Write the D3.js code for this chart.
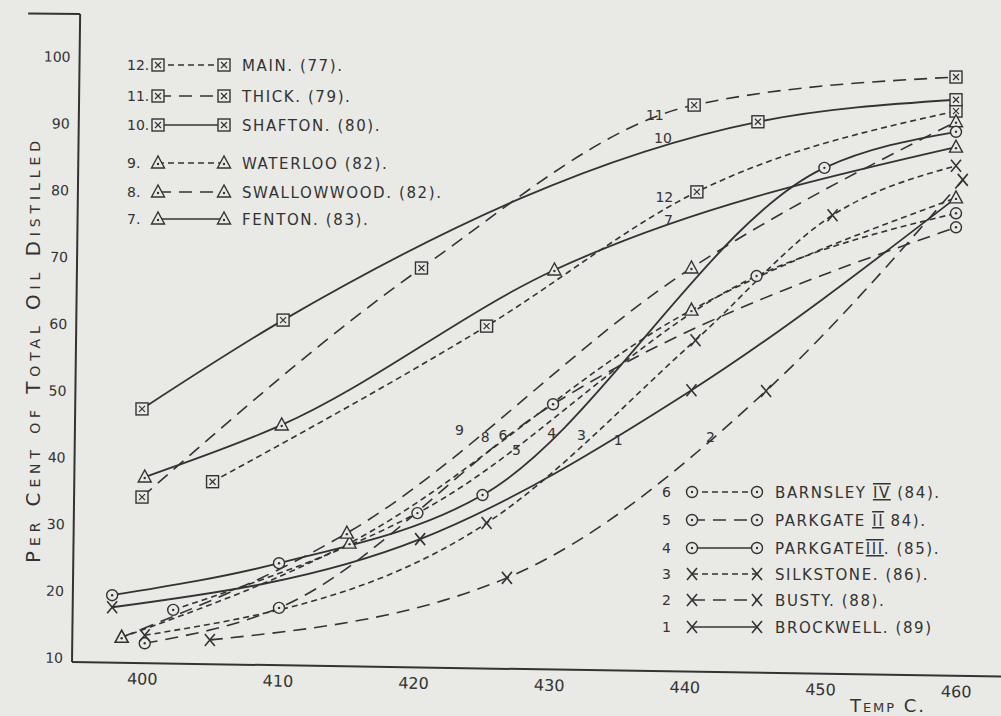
<!DOCTYPE html>
<html>
<head>
<meta charset="utf-8">
<script src="https://cdn.jsdelivr.net/npm/d3@7"></script>
<style>
body { margin: 0; background: #e9e9e6; }
svg { display: block; }
text { font-family: "DejaVu Sans", sans-serif; fill: #333; }
</style>
</head>
<body>
<div id="chart"></div>
<script>
var w = 1001, h = 716;
var bg = "#e9e9e6", ink = "#333";

// axes
var tempTicks = [400, 410, 420, 430, 440, 450, 460];
var pctTicks = [10, 20, 30, 40, 50, 60, 70, 80, 90, 100];

// squares
var mainT = [405.2, 425.4, 440.9, 460], mainV = [36.4, 59.7, 79.8, 91.9];
var thickT = [400, 420.6, 440.7, 460], thickV = [34.1, 68.4, 92.8, 97.0];
var shaftonT = [400, 410.4, 445.4, 460], shaftonV = [47.3, 60.6, 90.3, 93.6];
// triangles
var waterlooT = [398.5, 415.3, 440.5, 460], waterlooV = [13.1, 27.2, 62.1, 78.9];
var swallowT = [398.5, 415.1, 440.5, 460], swallowV = [13.1, 28.7, 68.4, 90.3];
var fentonT = [400.2, 410.3, 430.4, 460], fentonV = [37.1, 44.9, 68.1, 86.5];
// circles
var barnsleyT = [402.3, 420.3, 445.3, 460], barnsleyV = [17.2, 31.7, 67.2, 76.6];
var parkgate2T = [400.2, 410.1, 430.3, 460], parkgate2V = [12.2, 17.5, 48.0, 74.5];
var parkgate3T = [397.8, 410.1, 425.1, 450.3, 460], parkgate3V = [19.4, 24.2, 34.4, 83.4, 88.8];
// crosses
var silkstoneT = [400.2, 425.4, 440.8, 450.9, 460], silkstoneV = [13.4, 30.2, 57.6, 76.3, 83.7];
var bustyT = [405, 426.9, 446, 460.5], bustyV = [12.7, 22.0, 50.0, 81.6];
var brockwellT = [397.8, 420.5, 440.5, 460], brockwellV = [17.6, 27.8, 50.1, 78.9];

// curve numbers written on the sheet
var tagText = ["11", "10", "12", "7", "9", "8", "6", "5", "4", "3", "1", "2"];
var tagT = [437.8, 438.4, 438.5, 438.8, 423.4, 425.3, 426.6, 427.6, 430.2, 432.4, 435.1, 441.9];
var tagV = [90.6, 87.1, 78.3, 74.8, 43.4, 42.4, 42.6, 40.4, 42.9, 42.6, 41.9, 42.3];

var series = [
  {n: "12.", name: "MAIN. (77).", mark: "square", dash: "short", t: mainT, v: mainV},
  {n: "11.", name: "THICK. (79).", mark: "square", dash: "long", t: thickT, v: thickV},
  {n: "10.", name: "SHAFTON. (80).", mark: "square", dash: "solid", t: shaftonT, v: shaftonV},
  {n: "9.", name: "WATERLOO (82).", mark: "triangle", dash: "short", t: waterlooT, v: waterlooV},
  {n: "8.", name: "SWALLOWWOOD. (82).", mark: "triangle", dash: "long", t: swallowT, v: swallowV},
  {n: "7.", name: "FENTON. (83).", mark: "triangle", dash: "solid", t: fentonT, v: fentonV},
  {n: "6", name: "BARNSLEY |IV| (84).", mark: "circle", dash: "short", t: barnsleyT, v: barnsleyV},
  {n: "5", name: "PARKGATE |II|  84).", mark: "circle", dash: "long", t: parkgate2T, v: parkgate2V},
  {n: "4", name: "PARKGATE|III|. (85).", mark: "circle", dash: "solid", t: parkgate3T, v: parkgate3V},
  {n: "3", name: "SILKSTONE. (86).", mark: "cross", dash: "short", t: silkstoneT, v: silkstoneV},
  {n: "2", name: "BUSTY.   (88).", mark: "cross", dash: "long", t: bustyT, v: bustyV},
  // Brockwell runs into the Waterloo end mark, so its last point carries no cross
  {n: "1", name: "BROCKWELL. (89)", mark: "cross", dash: "solid", t: brockwellT, v: brockwellV, marked: 3}
];

var dashes = {solid: null, long: "13,8", short: "6,4"};

var x = d3.scaleLinear().domain([400, 460]).range([142, 956]);
var y = d3.scaleLinear().domain([10, 100]).range([658, 57]);

var svg = d3.select("#chart").append("svg").attr("width", w).attr("height", h);
svg.append("rect").attr("width", w).attr("height", h).attr("fill", bg);

/*
 * Markers
 */
function marker(g, type, cx, cy) {
  if (type == "square") {
    g.append("rect").attr("x", cx - 6).attr("y", cy - 6).attr("width", 12).attr("height", 12)
      .attr("fill", bg).attr("stroke", ink).attr("stroke-width", 1.4);
    g.append("path").attr("d", "M" + (cx - 3) + "," + (cy - 3) + "L" + (cx + 3) + "," + (cy + 3) +
      "M" + (cx + 3) + "," + (cy - 3) + "L" + (cx - 3) + "," + (cy + 3))
      .attr("stroke", ink).attr("stroke-width", 1.2);
  } else if (type == "triangle") {
    g.append("path").attr("d", "M" + cx + "," + (cy - 7) + "L" + (cx - 6.5) + "," + (cy + 5) + "L" + (cx + 6.5) + "," + (cy + 5) + "Z")
      .attr("fill", bg).attr("stroke", ink).attr("stroke-width", 1.4);
    g.append("circle").attr("cx", cx).attr("cy", cy + 1).attr("r", 1.2).attr("fill", ink);
  } else if (type == "circle") {
    g.append("circle").attr("cx", cx).attr("cy", cy).attr("r", 5.5)
      .attr("fill", bg).attr("stroke", ink).attr("stroke-width", 1.4);
    g.append("circle").attr("cx", cx).attr("cy", cy).attr("r", 1.2).attr("fill", ink);
  } else {
    g.append("path").attr("d", "M" + (cx - 5) + "," + (cy - 6) + "L" + (cx + 5) + "," + (cy + 6) +
      "M" + (cx + 5) + "," + (cy - 6) + "L" + (cx - 5) + "," + (cy + 6))
      .attr("stroke", ink).attr("stroke-width", 1.6);
  }
}

// axes, slightly skewed like the scanned sheet
var xAxis = svg.append("g").attr("transform", "translate(0,662) rotate(0.9,72,0)");
xAxis.append("line").attr("x1", 72).attr("x2", 1010).attr("y1", 0).attr("y2", 0)
  .attr("stroke", ink).attr("stroke-width", 2);
xAxis.call(d3.axisBottom(x).tickValues(tempTicks).tickSize(0).tickPadding(10).tickFormat(d3.format("d")));
xAxis.select(".domain").remove();
xAxis.selectAll(".tick text").attr("font-size", 16).attr("fill", ink)
  .style("font-family", "DejaVu Sans, sans-serif");

var yAxis = svg.append("g").attr("transform", "translate(72,0) rotate(0.72,0,662)");
yAxis.append("line").attr("x1", 0).attr("x2", 0).attr("y1", 14).attr("y2", 662)
  .attr("stroke", ink).attr("stroke-width", 2);
yAxis.append("line").attr("x1", -52).attr("x2", 0).attr("y1", 14).attr("y2", 14)
  .attr("stroke", ink).attr("stroke-width", 2);
yAxis.call(d3.axisLeft(y).tickValues(pctTicks).tickSize(0).tickPadding(9));
yAxis.select(".domain").remove();
yAxis.selectAll(".tick text").attr("font-size", 14).attr("fill", ink)
  .style("font-family", "DejaVu Sans, sans-serif");

svg.append("text").attr("transform", "translate(40,352) rotate(-90)")
  .attr("text-anchor", "middle").attr("font-size", 20)
  .attr("textLength", 422).attr("lengthAdjust", "spacing")
  .style("font-variant", "small-caps").text("Per Cent of Total Oil Distilled");

svg.append("text").attr("x", 850).attr("y", 712).attr("font-size", 18)
  .attr("textLength", 74).attr("lengthAdjust", "spacing")
  .style("font-variant", "small-caps").text("Temp C.");

// curves
var line = d3.line().x(function(d) { return x(d[0]); }).y(function(d) { return y(d[1]); })
  .curve(d3.curveMonotoneX);

var plot = svg.append("g");
series.forEach(function(s) {
  var pts = s.t.map(function(t, i) { return [t, s.v[i]]; });
  plot.append("path").datum(pts).attr("d", line).attr("fill", "none")
    .attr("stroke", ink).attr("stroke-width", s.dash == "solid" ? 1.8 : 1.6)
    .attr("stroke-dasharray", dashes[s.dash]);
});
series.forEach(function(s) {
  var n = s.marked || s.t.length;
  s.t.forEach(function(t, i) {
    if (i < n) marker(plot, s.mark, x(t), y(s.v[i]));
  });
});

// numbers on the curves
tagText.forEach(function(tx, i) {
  plot.append("text").attr("x", x(tagT[i])).attr("y", y(tagV[i])).attr("font-size", 14)
    .attr("text-anchor", "middle").text(tx);
});

/*
 * Legends
 */
function legendRow(s, ly, numX, m1, m2, textX) {
  var g = svg.append("g");
  g.append("text").attr("x", numX).attr("y", ly + 5).attr("font-size", 14).text(s.n);
  g.append("line").attr("x1", m1).attr("x2", m2).attr("y1", ly).attr("y2", ly)
    .attr("stroke", ink).attr("stroke-width", 1.6).attr("stroke-dasharray", dashes[s.dash]);
  marker(g, s.mark, m1, ly);
  marker(g, s.mark, m2, ly);
  var t = g.append("text").attr("x", textX).attr("y", ly + 6).attr("font-size", 15)
    .attr("letter-spacing", 1.6);
  var parts = s.name.split("|");
  parts.forEach(function(p, k) {
    var sp = t.append("tspan").text(p);
    if (k == 1) sp.style("text-decoration", "underline overline");
  });
}

var topRows = [65, 96, 125, 163, 192, 219];
series.slice(0, 6).forEach(function(s, i) {
  legendRow(s, topRows[i], 127, 158, 224, 242);
});
var botRows = [492, 520, 548, 574, 600, 627];
series.slice(6).forEach(function(s, i) {
  legendRow(s, botRows[i], 662, 692, 757, 775);
});
</script>
</body>
</html>
